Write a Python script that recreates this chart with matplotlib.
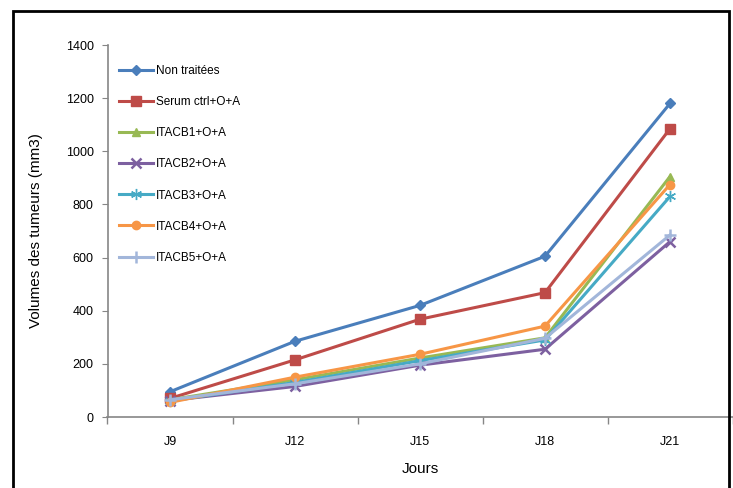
import matplotlib

matplotlib.use("Agg")
import matplotlib.pyplot as plt
from matplotlib.patches import Rectangle

plt.rcParams["font.family"] = ["Liberation Sans", "DejaVu Sans"]

# Données (volumes des tumeurs, mm3)
jours = ["J9", "J12", "J15", "J18", "J21"]
non_traitees = [95, 285, 420, 605, 1180]
serum_ctrl = [70, 215, 368, 468, 1085]
itacb1 = [65, 140, 222, 298, 905]
itacb2 = [62, 115, 195, 255, 660]
itacb3 = [60, 130, 212, 290, 830]
itacb4 = [55, 150, 236, 342, 875]
itacb5 = [65, 125, 200, 296, 685]

series = [
    ("Non traitées", non_traitees),
    ("Serum ctrl+O+A", serum_ctrl),
    ("ITACB1+O+A", itacb1),
    ("ITACB2+O+A", itacb2),
    ("ITACB3+O+A", itacb3),
    ("ITACB4+O+A", itacb4),
    ("ITACB5+O+A", itacb5),
]
# style Excel : couleur, marqueur, taille
STYLES = {
    "Non traitées": ("#4A7EBB", "D", 5),
    "Serum ctrl+O+A": ("#BE4B48", "s", 7),
    "ITACB1+O+A": ("#98B954", "^", 6),
    "ITACB2+O+A": ("#7D60A0", "x", 7),
    "ITACB3+O+A": ("#46AAC5", (6, 2, 0), 8),
    "ITACB4+O+A": ("#F79646", "o", 6),
    "ITACB5+O+A": ("#A2B6DA", "+", 8),
}

fig = plt.figure(figsize=(7.33, 4.88), dpi=100)
W, H = 733, 488
ax = fig.add_axes([107.5 / W, 1 - 417 / H, 625 / W, 372 / H])

x = list(range(len(jours)))
for name, vals in series:
    c, m, ms = STYLES[name]
    ax.plot(x, vals, color=c, marker=m, ms=ms, lw=2.2, mew=1.8 if m in ("x", "+") else 1,
            mec=c, mfc=c, label=name)

ax.set_xlim(-0.5, 4.5)
ax.set_ylim(0, 1400)
ax.set_yticks(range(0, 1401, 200))
ax.set_xticks(x)
ax.set_xticklabels(jours)
ax.set_xticks([i - 0.5 for i in range(len(jours) + 1)], minor=True)
ax.tick_params(axis="x", which="major", length=0, pad=14, labelsize=9)
ax.tick_params(axis="x", which="minor", length=5, color="#868686", width=1)
ax.tick_params(axis="y", length=4, color="#868686", labelsize=9, pad=6)
for s in ("top", "right"):
    ax.spines[s].set_visible(False)
for s in ("left", "bottom"):
    ax.spines[s].set_color("#868686")
    ax.spines[s].set_linewidth(1.2)

ax.set_xlabel("Jours", fontsize=11, labelpad=10)
ax.set_ylabel("Volumes des tumeurs (mm3)", fontsize=11, labelpad=16)

ax.legend(loc="upper left", bbox_to_anchor=(11 / 625, 1 - 20 / 372), frameon=False,
          fontsize=8.5, handlelength=2.9, labelspacing=1.62, handletextpad=0.25,
          borderpad=0, borderaxespad=0)

# cadre noir autour du graphique
fig.patches.append(Rectangle((13 / W, -0.05), 716 / W, 1.05 - 11 / H, transform=fig.transFigure,
                             fill=False, ec="black", lw=2, clip_on=False))

fig.savefig("out.png", dpi=100)
